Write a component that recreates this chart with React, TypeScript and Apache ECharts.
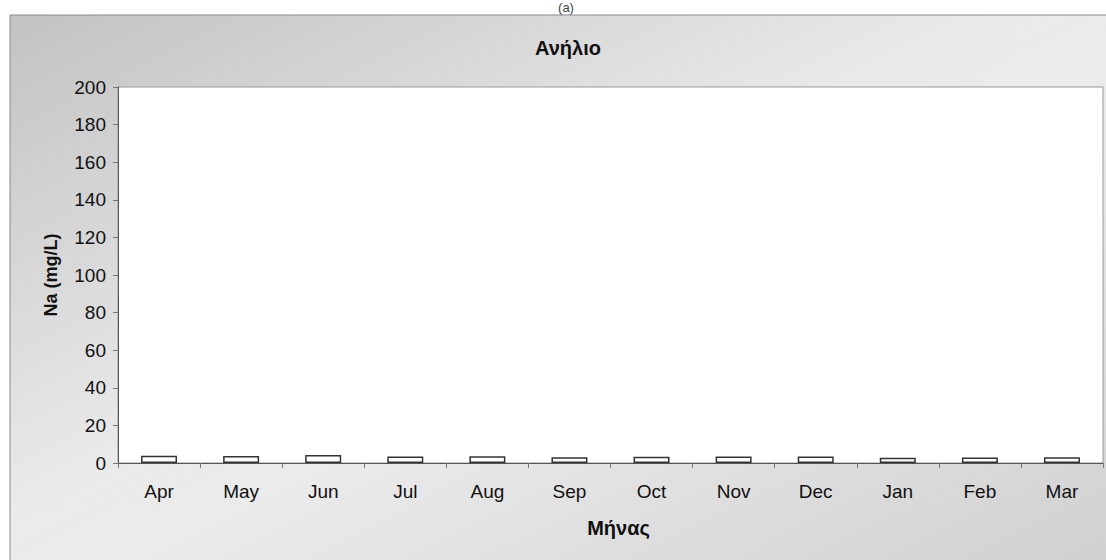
import React, { useEffect, useRef } from "react";
import * as echarts from "echarts";

const months = ["Apr", "May", "Jun", "Jul", "Aug", "Sep", "Oct", "Nov", "Dec", "Jan", "Feb", "Mar"];
const naValues = [3.8, 3.7, 4.2, 3.5, 3.6, 3.0, 3.3, 3.5, 3.5, 2.8, 2.9, 3.0];
const yMin = 0;
const yMax = 200;
const yInterval = 20;
const titleText = "Ανήλιο";
const xName = "Μήνας";
const yName = "Na (mg/L)";
const panelTag = "(a)";

const FONT = "'Liberation Sans', Arial, sans-serif";

export default function App() {
  const ref = useRef<HTMLDivElement>(null);
  useEffect(() => {
    if (!ref.current) return;
    const chart = echarts.init(ref.current, null, { renderer: "svg" });
    chart.setOption({
      animation: false,
      backgroundColor: "#ffffff",
      graphic: [
        {
          type: "rect",
          z: -10,
          shape: { x: 10, y: 15, width: 1100, height: 550 },
          style: {
            fill: new echarts.graphic.LinearGradient(0, 0, 1, 1, [
              { offset: 0, color: "#c2c2c2" },
              { offset: 0.45, color: "#eaeaea" },
              { offset: 0.55, color: "#ebebeb" },
              { offset: 1, color: "#d0d0d0" },
            ]),
            stroke: "#8a8a8a",
            lineWidth: 1,
          },
        },
        {
          type: "text",
          x: 566,
          y: 7,
          style: {
            text: panelTag,
            font: "13px " + FONT,
            fill: "#444",
            align: "center",
            verticalAlign: "middle",
          },
        },
        {
          type: "text",
          x: 568,
          y: 48,
          style: {
            text: titleText,
            font: "bold 20px " + FONT,
            fill: "#111",
            align: "center",
            verticalAlign: "middle",
          },
        },
      ],
      grid: {
        left: 118,
        top: 87,
        right: 3,
        bottom: 97,
        show: true,
        backgroundColor: "#ffffff",
        borderColor: "#9a9a9a",
        borderWidth: 1,
      },
      xAxis: {
        type: "category",
        data: months,
        name: xName,
        nameLocation: "middle",
        nameGap: 55,
        nameTextStyle: { fontFamily: FONT, fontSize: 20, fontWeight: "bold", color: "#111", padding: [0, 0, 0, 16] },
        axisLine: { lineStyle: { color: "#555", width: 1 } },
        axisTick: { show: true, length: 5, lineStyle: { color: "#777" } },
        axisLabel: { fontFamily: FONT, fontSize: 19, color: "#111", margin: 19 },
      },
      yAxis: {
        type: "value",
        min: yMin,
        max: yMax,
        interval: yInterval,
        name: yName,
        nameLocation: "middle",
        nameGap: 58,
        nameTextStyle: { fontFamily: FONT, fontSize: 18, fontWeight: "bold", color: "#111" },
        axisLine: { show: true, lineStyle: { color: "#555", width: 1 } },
        axisTick: { show: true, length: 5, lineStyle: { color: "#777" } },
        axisLabel: { fontFamily: FONT, fontSize: 19, color: "#111", margin: 12 },
        splitLine: { show: false },
      },
      series: [
        {
          type: "bar",
          data: naValues,
          barWidth: 36,
          itemStyle: { color: "#ffffff", borderColor: "#333", borderWidth: 1.5 },
        },
      ],
    });
    return () => chart.dispose();
  }, []);
  return (
    <div
      ref={ref}
      style={{ position: "fixed", left: 0, top: 0, width: 1106, height: 560 }}
    />
  );
}
